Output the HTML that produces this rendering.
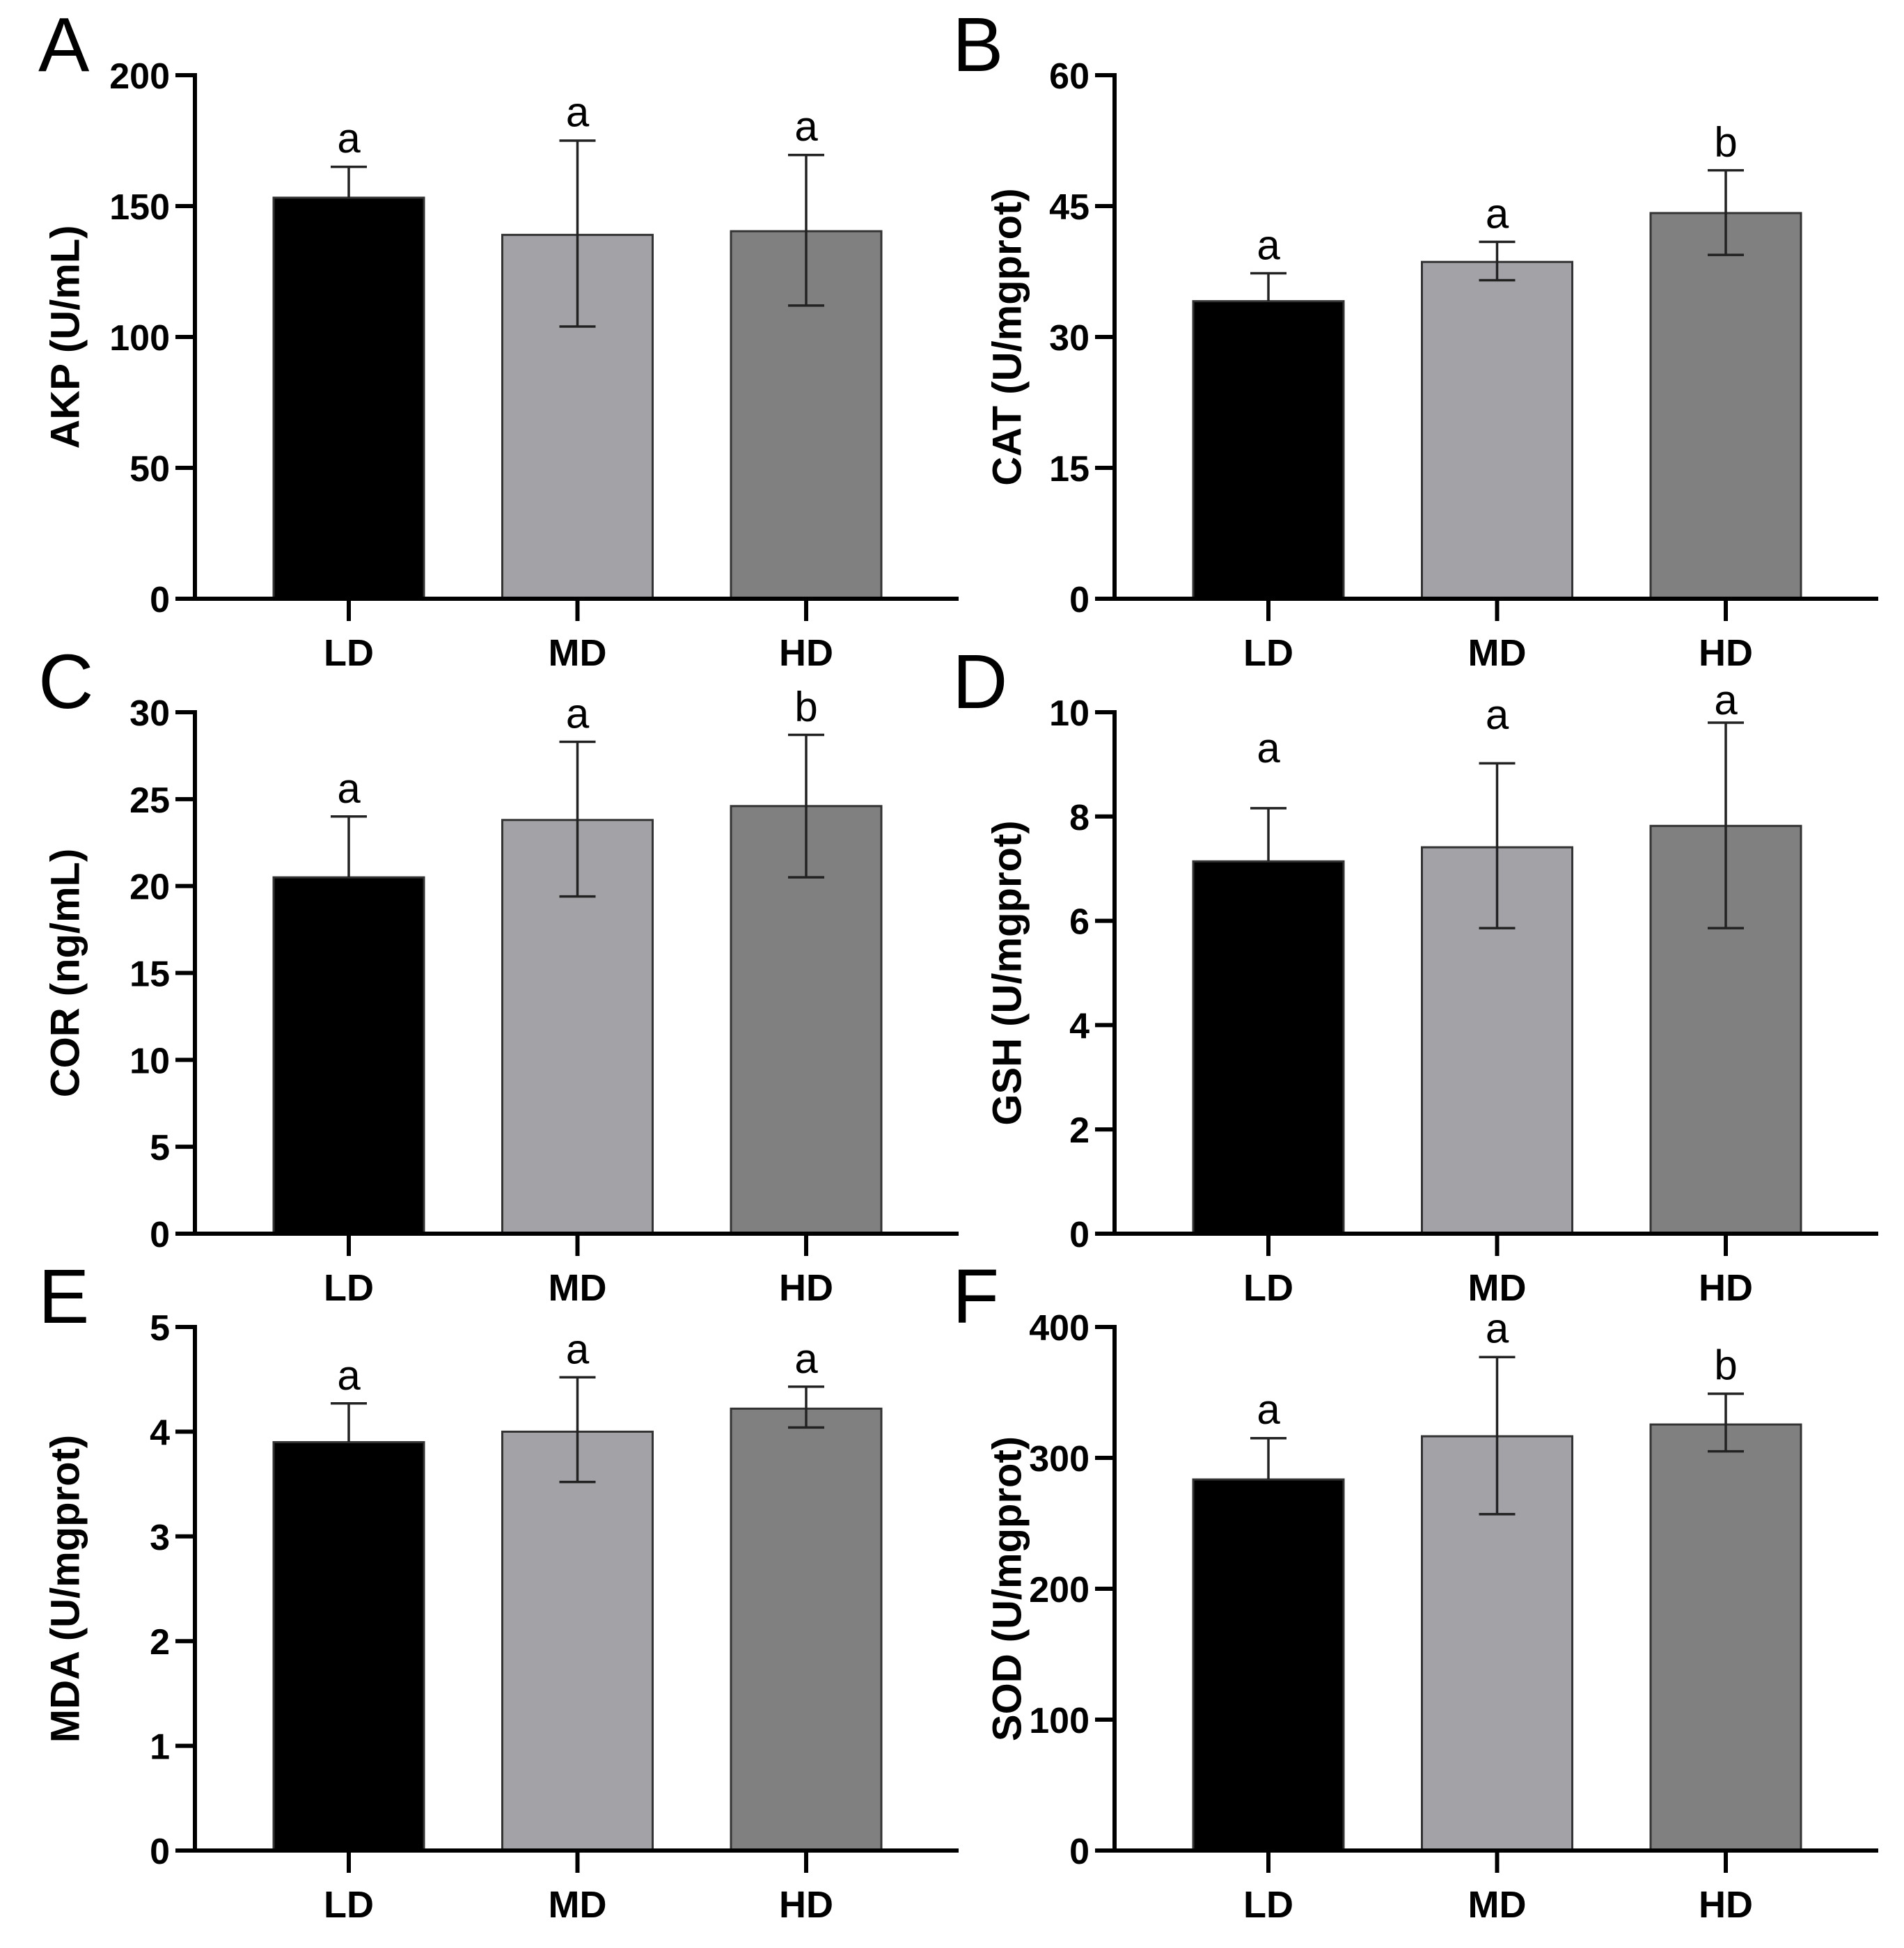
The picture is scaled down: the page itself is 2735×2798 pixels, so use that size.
<!DOCTYPE html>
<html><head><meta charset="utf-8"><style>
html,body{margin:0;padding:0;background:#fff;}
svg text{font-family:"Liberation Sans",Arial,sans-serif;}
</style></head><body>
<svg id="fig" width="2735" height="2793" viewBox="0 0 2735 2793" xmlns="http://www.w3.org/2000/svg"></svg>
<script>
const categories = ["LD","MD","HD"];
const panelLetters = ["A","B","C","D","E","F"];
const yTitles = ["AKP (U/mL)","CAT (U/mgprot)","COR (ng/mL)","GSH (U/mgprot)","MDA (U/mgprot)","SOD (U/mgprot)"];
const yMax = [200,60,30,10,5,400];
const yTicks = [[0,50,100,150,200],[0,15,30,45,60],[0,5,10,15,20,25,30],[0,2,4,6,8,10],[0,1,2,3,4,5],[0,100,200,300,400]];
const means = [[153.2,139,140.4],[34.1,38.6,44.2],[20.5,23.8,24.6],[7.14,7.41,7.82],[3.9,4.0,4.22],[283.5,316.5,325.5]];
const errHigh = [[165,175,169.5],[37.3,40.9,49.1],[24.0,28.3,28.7],[8.16,9.02,9.8],[4.27,4.52,4.43],[315,377,349]];
const errLow = [[153.2,104,112],[34.1,36.5,39.4],[20.5,19.4,20.5],[7.14,5.86,5.86],[3.9,3.52,4.04],[283.5,257,305]];
const sigLetters = [["a","a","a"],["a","a","b"],["a","a","b"],["a","a","a"],["a","a","a"],["a","a","b"]];
const sigPos = [[170.5,180.5,175],[38.9,42.5,50.7],[24.8,29.1,29.5],[9.04,9.68,9.96],[4.4,4.65,4.56],[326,388,360]];

const NS="http://www.w3.org/2000/svg";
const svg=document.getElementById('fig');
const fills=["#000000","#a3a3a7","#808080"];
const colX=[280,1601];
const rowY=[[108,860],[1023,1772],[1906,2658]];
function mk(tag,attrs,parent){const e=document.createElementNS(NS,tag);for(const k in attrs)e.setAttribute(k,attrs[k]);(parent||svg).appendChild(e);return e;}

for(let p=0;p<6;p++){
  const col=p%2,row=Math.floor(p/2);
  const ax=colX[col],yTop=rowY[row][0],y0=rowY[row][1];
  const g=mk('g',{});
  
  
  const yS=v=>y0-(v/yMax[p])*(y0-yTop);
  const xC=i=>ax+113+108+i*328.5;
  const pl=mk('text',{x:col?1368:55,y:yTop-6,'font-size':110},g);
  pl.textContent=panelLetters[p];
  
  
  for(let i=0;i<3;i++){
    const b=mk('rect',{x:xC(i)-108,y:yS(means[p][i]),width:216,height:y0-yS(means[p][i]),fill:fills[i],stroke:'#333',"stroke-width":3},g);
    
    
    const cx=xC(i);
    const eb=mk('path',{d:`M${cx},${yS(errLow[p][i])}V${yS(errHigh[p][i])}M${cx-26},${yS(errHigh[p][i])}H${cx+26}`+(errLow[p][i]<means[p][i]-1e-9?`M${cx-26},${yS(errLow[p][i])}H${cx+26}`:''),stroke:'#222','stroke-width':3.5,fill:'none'},g);
    
    
    const sl=mk('text',{x:cx,y:yS(sigPos[p][i]),'font-size':60,'text-anchor':'middle'},g);
    sl.textContent=sigLetters[p][i];
    
    
    const xt=mk('line',{x1:cx,y1:y0,x2:cx,y2:y0+32,stroke:'#000','stroke-width':6},g);
    
    
    const xl=mk('text',{x:cx,y:y0+96,'font-size':54,'font-weight':'bold','text-anchor':'middle'},g);
    xl.textContent=categories[i];
    
    
  }
  const ya=mk('line',{x1:ax,y1:yTop-3,x2:ax,y2:y0+3,stroke:'#000','stroke-width':6},g);
  
  
  const xa=mk('line',{x1:ax-3,y1:y0,x2:ax+1097,y2:y0,stroke:'#000','stroke-width':6},g);
  
  
  for(const t of yTicks[p]){
    const tl=mk('line',{x1:ax-28,y1:yS(t),x2:ax,y2:yS(t),stroke:'#000','stroke-width':6},g);
    
    
    const tt=mk('text',{x:ax-36,y:yS(t)+19,'font-size':52,'font-weight':'bold','text-anchor':'end'},g);
    tt.textContent=t;
    
    
  }
  const tx=col?1447:94, ty=(yTop+y0)/2;
  const yt=mk('text',{x:tx,y:ty,'font-size':58,'font-weight':'bold','text-anchor':'middle','dominant-baseline':'central',transform:`rotate(-90 ${tx} ${ty})`},g);
  yt.textContent=yTitles[p];
  
  
}
</script>
</body></html>
